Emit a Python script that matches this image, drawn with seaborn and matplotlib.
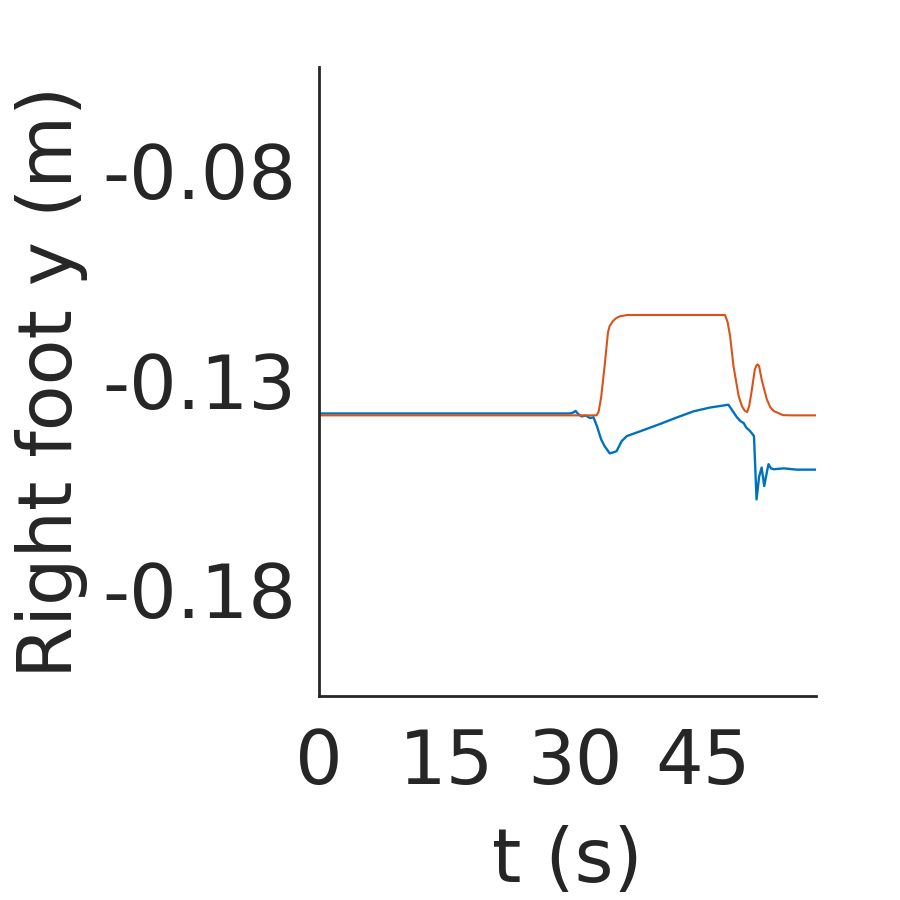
import numpy as np
import pandas as pd
import matplotlib
matplotlib.use('Agg')
import matplotlib.pyplot as plt
import seaborn as sns

# measured right foot y (blue)
t_meas = [0, 29.4, 29.8, 30.1, 30.4, 30.8, 31.3, 31.8, 32.2, 32.6, 33.1, 33.5, 34.1,
          34.5, 34.9, 35.5, 36.1, 37.6, 40.0, 41.9, 43.9, 45.8, 47.4, 48.0, 48.6,
          49.0, 49.4, 49.8, 50.1, 50.4, 50.7, 51.0, 51.3, 51.6, 51.9, 52.2, 52.5,
          52.7, 53.0, 53.3, 54.5, 56.0, 58.3]
y_meas = [-0.1379, -0.1379, -0.1377, -0.1373, -0.1380, -0.1386, -0.1384, -0.1390, -0.1388,
          -0.1409, -0.1441, -0.1457, -0.1474, -0.1472, -0.1469, -0.1445, -0.1433, -0.1422,
          -0.1404, -0.1389, -0.1374, -0.1365, -0.1360, -0.1358, -0.1376, -0.1388, -0.1397,
          -0.1402, -0.1413, -0.1418, -0.1425, -0.1433, -0.1584, -0.1530, -0.1508, -0.1552,
          -0.1520, -0.1500, -0.1510, -0.1512, -0.1510, -0.1513, -0.1513]

# reference right foot y (orange)
t_ref = [0, 32.55, 32.8, 33.1, 33.5, 33.9, 34.1, 34.5, 34.9, 35.3, 36.2, 47.6, 47.9,
         48.2, 48.6, 49.2, 49.6, 49.9, 50.2, 50.45, 50.7, 51.1, 51.3, 51.45, 51.6,
         51.9, 52.5, 52.9, 53.3, 54.4, 55.5, 58.3]
y_ref = [-0.13835, -0.13835, -0.1375, -0.1340, -0.1266, -0.1185, -0.1170, -0.1158, -0.1151,
         -0.1147, -0.1144, -0.1144, -0.1160, -0.1194, -0.1266, -0.1337, -0.1362, -0.1372,
         -0.1376, -0.1360, -0.1329, -0.1274, -0.1264, -0.1262, -0.1266, -0.1298, -0.1345,
         -0.1364, -0.1373, -0.1383, -0.13835, -0.13835]

y_ticks = [-0.18, -0.13, -0.08]
x_ticks = [0, 15, 30, 45]

sns.set_style('white')
plt.rcParams['font.family'] = ['DejaVu Sans']

fig = plt.figure(figsize=(9, 9), dpi=100)
ax = fig.add_axes([0.354, 0.2267, 0.553, 0.699])

meas = pd.DataFrame({'t': t_meas, 'y': y_meas})
ref = pd.DataFrame({'t': t_ref, 'y': y_ref})
sns.lineplot(data=meas, x='t', y='y', ax=ax, color='#0072BD', lw=1.7, estimator=None, sort=False)
sns.lineplot(data=ref, x='t', y='y', ax=ax, color='#D95319', lw=1.5, estimator=None, sort=False)

ax.set_xlim(0, 58.3)
ax.set_ylim(-0.2053, -0.0552)
ax.set_xticks(x_ticks)
ax.set_xticklabels([str(v) for v in x_ticks])
ax.set_yticks(y_ticks)
ax.set_yticklabels([f'{v:.2f}' for v in y_ticks])
ax.tick_params(direction='in', length=5, width=2, colors='#262626', labelsize=54)
ax.tick_params(axis='x', pad=22)
ax.tick_params(axis='y', pad=16)
ax.set_xlabel('t (s)', fontsize=54, color='#262626', labelpad=18)
ax.set_ylabel('Right foot y (m)', fontsize=54, color='#262626', labelpad=10)

for side in ['top', 'right']:
    ax.spines[side].set_visible(False)
for side in ['left', 'bottom']:
    ax.spines[side].set_color('#262626')
    ax.spines[side].set_linewidth(2)

fig.savefig('out.png', dpi=100)
plt.close()
